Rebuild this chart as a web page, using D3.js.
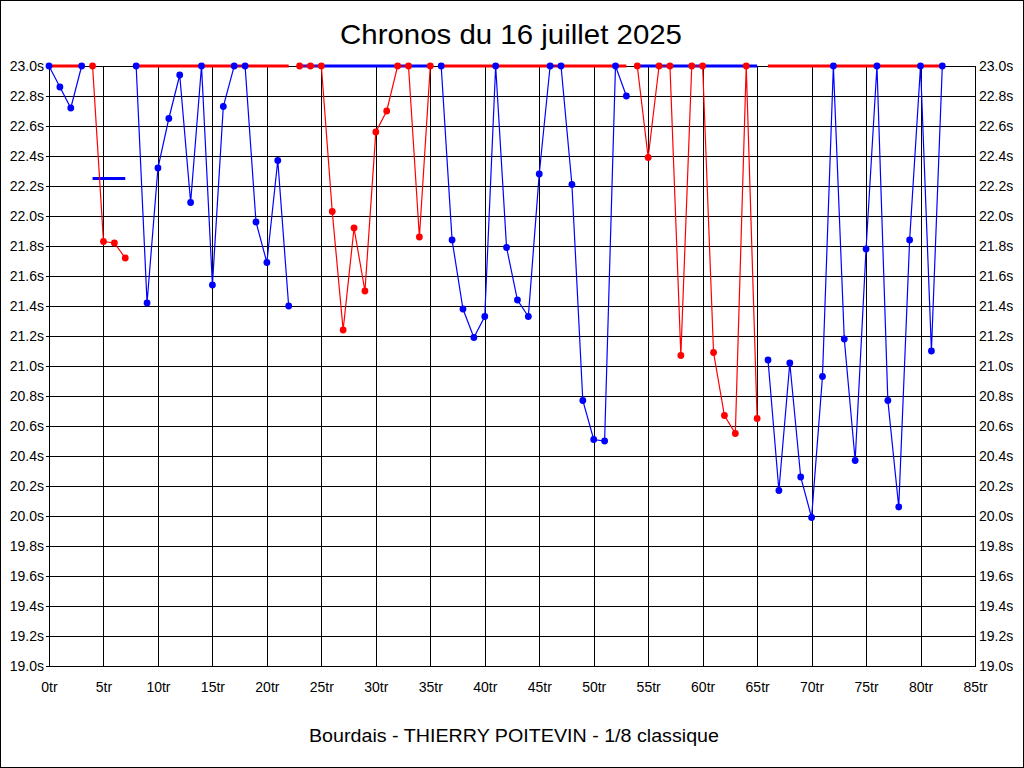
<!DOCTYPE html>
<html>
<head>
<meta charset="utf-8">
<script src="https://cdn.jsdelivr.net/npm/d3@7"></script>
<style>
  html, body { margin: 0; padding: 0; background: #fff; }
  svg { display: block; font-family: "Liberation Sans", Arial, sans-serif; }
</style>
</head>
<body>
<svg id="chart" width="1024" height="768"></svg>
<script>
// ---- Data ----
const title = "Chronos du 16 juillet 2025";
const footer = "Bourdais - THIERRY POITEVIN - 1/8 classique";

// lap times (seconds), displayed values (clipped at 23.0s), laps 0..82
const lapTimes = [
  23.0, 22.86, 22.72, 23.0,
  23.0, 21.83, 21.82, 21.72,
  23.0, 21.42, 22.32, 22.65, 22.94, 22.09, 23.0, 21.54, 22.73, 23.0, 23.0, 21.96, 21.69, 22.37, 21.40,
  23.0, 23.0, 23.0, 22.03, 21.24, 21.92, 21.50, 22.56, 22.70, 23.0, 23.0, 21.86, 23.0,
  23.0, 21.84, 21.38, 21.19, 21.33, 23.0, 21.79, 21.44, 21.33, 22.28, 23.0, 23.0, 22.21, 20.77, 20.51, 20.50, 23.0, 22.80,
  23.0, 22.39, 23.0, 23.0, 21.07, 23.0, 23.0, 21.09, 20.67, 20.55, 23.0, 20.65,
  21.04, 20.17, 21.02, 20.26, 19.99, 20.93, 23.0, 21.18, 20.37, 21.78, 23.0, 20.77, 20.06, 21.84, 23.0, 21.10, 23.0
];
// groups of laps (first and last lap), colour of the group, average (clipped)
const groupFirstLap = [0, 4, 8, 23, 36, 54, 66];
const groupLastLap  = [3, 7, 22, 35, 53, 65, 82];
const groupColor    = ["blue", "red", "blue", "red", "blue", "red", "blue"];
const groupAverage  = [23.0, 22.25, 23.0, 23.0, 23.0, 23.0, 23.0];

const xTicks = [0, 5, 10, 15, 20, 25, 30, 35, 40, 45, 50, 55, 60, 65, 70, 75, 80, 85];
const yTicks = [19.0, 19.2, 19.4, 19.6, 19.8, 20.0, 20.2, 20.4, 20.6, 20.8, 21.0, 21.2, 21.4, 21.6, 21.8, 22.0, 22.2, 22.4, 22.6, 22.8, 23.0];

const colorMap = { blue: "#0000ff", red: "#ff0000" };
const opposite = { blue: "red", red: "blue" };

// ---- Layout ----
const svg = d3.select("#chart");
const L = 49, R = 975, T = 66, B = 666;

const x = d3.scaleLinear().domain([0, 85]).range([L, R]);
const y = d3.scaleLinear().domain([19.0, 23.0]).range([B, T]);

svg.append("rect").attr("x", 0).attr("y", 0).attr("width", 1024).attr("height", 768).attr("fill", "#fff");

// grid
const grid = svg.append("g").attr("shape-rendering", "crispEdges").attr("stroke", "#000").attr("stroke-width", 1);
grid.selectAll("line.h").data(yTicks).enter().append("line")
  .attr("x1", L - 3).attr("x2", R)
  .attr("y1", d => Math.round(y(d)) + 0.5).attr("y2", d => Math.round(y(d)) + 0.5);
grid.selectAll("line.v").data(xTicks).enter().append("line")
  .attr("y1", T).attr("y2", B)
  .attr("x1", d => Math.round(x(d)) + 0.5).attr("x2", d => Math.round(x(d)) + 0.5);

// plot border
svg.append("rect").attr("x", L + 0.5).attr("y", T + 0.5).attr("width", R - L).attr("height", B - T)
  .attr("fill", "none").attr("stroke", "#000").attr("shape-rendering", "crispEdges");

// axes labels
const leftAxis = d3.axisLeft(y).tickValues(yTicks).tickSize(0).tickPadding(5).tickFormat(d => d3.format(".1f")(d) + "s");
const rightAxis = d3.axisRight(y).tickValues(yTicks).tickSize(0).tickPadding(4).tickFormat(d => d3.format(".1f")(d) + "s");
const bottomAxis = d3.axisBottom(x).tickValues(xTicks).tickSize(0).tickPadding(16).tickFormat(d => d + "tr");

function styleAxis(g) {
  g.select(".domain").remove();
  g.selectAll("text").attr("font-size", 14).attr("fill", "#000")
    .attr("font-family", "'Liberation Sans', Arial, sans-serif");
}
svg.append("g").attr("transform", `translate(${L},0)`).call(leftAxis).call(styleAxis);
svg.append("g").attr("transform", `translate(${R},0)`).call(rightAxis).call(styleAxis);
svg.append("g").attr("transform", `translate(0,${B})`).call(bottomAxis).call(styleAxis);

// groups
const groups = groupFirstLap.map((f, i) => ({
  first: f, last: groupLastLap[i], color: groupColor[i], avg: groupAverage[i],
  points: lapTimes.slice(f, groupLastLap[i] + 1).map((v, k) => ({ lap: f + k, v }))
}));

// average lines (opposite colour, thick)
svg.append("g").selectAll("line").data(groups).enter().append("line")
  .attr("x1", d => x(d.first)).attr("x2", d => x(d.last))
  .attr("y1", d => y(d.avg)).attr("y2", d => y(d.avg))
  .attr("stroke", d => colorMap[opposite[d.color]]).attr("stroke-width", 3);

// data lines
const line = d3.line().x(d => x(d.lap)).y(d => y(d.v));
svg.append("g").selectAll("path").data(groups).enter().append("path")
  .attr("d", d => line(d.points)).attr("fill", "none")
  .attr("stroke", d => colorMap[d.color]).attr("stroke-width", 1.2);

// dots
const dots = svg.append("g");
groups.forEach(g => {
  dots.selectAll(null).data(g.points).enter().append("circle")
    .attr("cx", d => x(d.lap)).attr("cy", d => y(d.v)).attr("r", 3.4)
    .attr("fill", colorMap[g.color]);
});

// title and footer
svg.append("text").attr("x", 340).attr("y", 44).attr("font-size", 28)
  .attr("textLength", 342).attr("lengthAdjust", "spacingAndGlyphs").text(title);
svg.append("text").attr("x", 309).attr("y", 742).attr("font-size", 17.5)
  .attr("textLength", 410).attr("lengthAdjust", "spacingAndGlyphs").text(footer);

// image border
svg.append("rect").attr("x", 0.5).attr("y", 0.5).attr("width", 1023).attr("height", 767)
  .attr("fill", "none").attr("stroke", "#000").attr("shape-rendering", "crispEdges");
</script>
</body>
</html>
